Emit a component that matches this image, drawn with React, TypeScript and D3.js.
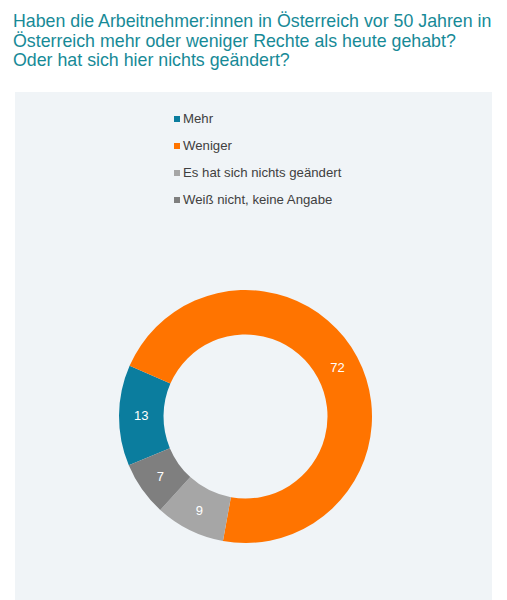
import React, { useEffect, useRef } from 'react';
import * as d3 from 'd3';

const categories = ['Mehr', 'Weniger', 'Es hat sich nichts geändert', 'Weiß nicht, keine Angabe'];
const values = [13, 72, 9, 7];
const colors = ['#0b7d9e', '#ff7400', '#a6a6a6', '#7f7f7f'];
const titleLines = [
  'Haben die Arbeitnehmer:innen in Österreich vor 50 Jahren in',
  'Österreich mehr oder weniger Rechte als heute gehabt?',
  'Oder hat sich hier nichts geändert?',
];

const App: React.FC = () => {
  const svgRef = useRef<SVGSVGElement>(null);
  const width = 507;
  const height = 600;

  useEffect(() => {
    if (!svgRef.current) return;
    const svg = d3.select(svgRef.current);
    svg.selectAll('*').remove();

    svg.append('rect').attr('width', width).attr('height', height).attr('fill', '#ffffff');

    // title
    svg.append('g')
      .selectAll('text')
      .data(titleLines)
      .join('text')
      .attr('x', 13)
      .attr('y', (_, i) => 27 + i * 19.5)
      .attr('fill', '#178a97')
      .style('font-family', '"Liberation Sans", Arial, sans-serif')
      .style('font-size', '17.8px')
      .text(d => d);

    // panel
    svg.append('rect')
      .attr('x', 15)
      .attr('y', 92)
      .attr('width', 477)
      .attr('height', height - 92)
      .attr('fill', '#f0f4f7');

    // legend
    const legend = svg.append('g')
      .selectAll('g')
      .data(categories)
      .join('g')
      .attr('transform', (_, i) => `translate(174,${123 + i * 27})`);

    legend.append('rect')
      .attr('x', 0)
      .attr('y', -7)
      .attr('width', 6)
      .attr('height', 6)
      .attr('fill', (_, i) => colors[i]);

    legend.append('text')
      .attr('x', 9)
      .attr('y', 0)
      .attr('fill', '#404040')
      .style('font-family', '"Liberation Sans", Arial, sans-serif')
      .style('font-size', '13.2px')
      .text(d => d);

    // donut
    const cx = 245.5;
    const cy = 416.5;
    const outerR = 126.5;
    const innerR = 82;
    const start = (247.3 * Math.PI) / 180;

    const pie = d3.pie<number>()
      .sort(null)
      .value(d => d)
      .startAngle(start)
      .endAngle(start + 2 * Math.PI);

    const arc = d3.arc<d3.PieArcDatum<number>>()
      .innerRadius(innerR)
      .outerRadius(outerR);

    const g = svg.append('g').attr('transform', `translate(${cx},${cy})`);
    const arcs = pie(values);

    g.selectAll('path')
      .data(arcs)
      .join('path')
      .attr('d', arc)
      .attr('fill', (_, i) => colors[i]);

    g.selectAll('text')
      .data(arcs)
      .join('text')
      .attr('transform', d => `translate(${arc.centroid(d)})`)
      .attr('text-anchor', 'middle')
      .attr('dy', '0.35em')
      .attr('fill', '#ffffff')
      .style('font-family', '"Liberation Sans", Arial, sans-serif')
      .style('font-size', '13px')
      .text(d => d.data);
  }, []);

  return (
    <svg
      ref={svgRef}
      width={width}
      height={height}
      style={{ position: 'absolute', left: 0, top: 0, display: 'block' }}
    />
  );
};

export default App;
